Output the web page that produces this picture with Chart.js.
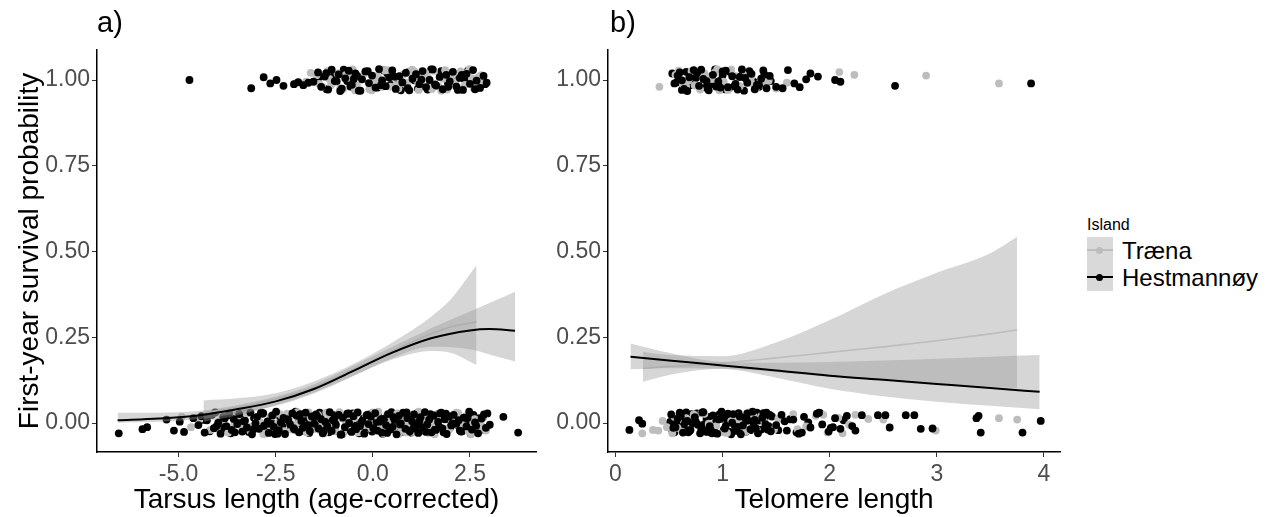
<!DOCTYPE html>
<html>
<head>
<meta charset="utf-8">
<script src="https://cdn.jsdelivr.net/npm/chart.js@4.4.1/dist/chart.umd.min.js"></script>
<style>
body { margin: 0; background: #fff; width: 1269px; height: 517px; position: relative; overflow: hidden; font-family: "Liberation Sans", Arial, sans-serif; }
canvas { position: absolute; top: 0; }
#chartA { left: 0; }
#chartB { left: 550px; }
.tag { position: absolute; top: 6px; font-size: 29px; line-height: 32px; color: #000; }
#legend { position: absolute; left: 1087px; top: 215px; color: #000; }
#legend .title { font-size: 16px; line-height: 20px; margin-bottom: 2px; }
#legend .row { display: flex; align-items: center; height: 27px; font-size: 24px; }
#legend .key { position: relative; width: 26px; height: 27px; background: #d9d9d9; margin-right: 9px; }
#legend .key i { position: absolute; display: block; }
#legend .key .ln { left: 0; right: 0; top: 12px; height: 2px; }
#legend .key .dot { left: 9px; top: 10px; width: 7px; height: 7px; border-radius: 50%; }
</style>
</head>
<body>
<canvas id="chartA" width="545" height="517"></canvas>
<canvas id="chartB" width="520" height="517"></canvas>
<div class="tag" style="left:97px">a)</div>
<div class="tag" style="left:610px">b)</div>
<div id="legend">
  <div class="title">Island</div>
  <div class="row"><span class="key"><i class="ln" style="background:#bdbdbd"></i><i class="dot" style="background:#bdbdbd"></i></span>Træna</div>
  <div class="row"><span class="key"><i class="ln" style="background:#000"></i><i class="dot" style="background:#000"></i></span>Hestmannøy</div>
</div>
<script>
// colours per island
const colTraena = '#bdbdbd';
const colHest = '#000000';
const ribbonFill = 'rgba(153,153,153,0.4)';

const yTicks = [0, 0.25, 0.5, 0.75, 1];

// ---- panel a: tarsus length ----
const aXTicks = [-5, -2.5, 0, 2.5];

// fitted curves (Hestmannøy)
const aHestCurveX = [-6.57, -5.5, -4.5, -3.5, -2.5, -1.5, -0.5, 0.5, 1.5, 2.5, 3.0, 3.66];
const aHestFit    = [0.008, 0.013, 0.022, 0.040, 0.063, 0.100, 0.152, 0.205, 0.247, 0.270, 0.274, 0.269];
const aHestUpper  = [0.030, 0.030, 0.035, 0.052, 0.077, 0.114, 0.167, 0.222, 0.276, 0.325, 0.350, 0.383];
const aHestLower  = [0.001, 0.004, 0.011, 0.028, 0.050, 0.087, 0.137, 0.189, 0.222, 0.215, 0.200, 0.179];
// fitted curves (Træna)
const aTraCurveX = [-4.36, -3.5, -2.5, -1.5, -0.5, 0.5, 1.5, 2.0, 2.67];
const aTraFit    = [0.030, 0.045, 0.070, 0.105, 0.156, 0.210, 0.260, 0.280, 0.295];
const aTraUpper  = [0.066, 0.072, 0.087, 0.122, 0.172, 0.235, 0.310, 0.360, 0.460];
const aTraLower  = [0.004, 0.022, 0.052, 0.090, 0.138, 0.185, 0.210, 0.205, 0.169];

// jittered observations, y offsets in thousandths
const aHestX0 = [-6.54,-5.93,-5.81,-5.31,-5.12,-4.97,-4.86,-4.62,-4.49,-4.41,
  -4.33,-4.27,-4.14,-4.09,-3.98,-3.92,-3.85,-3.77,-3.70,-3.63,
  -3.58,-3.49,-3.44,-3.36,-3.29,-3.24,-3.15,-3.11,-3.02,-2.98,
  -2.93,-2.84,-2.80,-2.71,-2.68,-2.59,-2.55,-2.49,-2.42,-2.37,
  -2.30,-2.26,-2.18,-2.13,-2.07,-2.01,-1.96,-1.90,-1.84,-1.80,
  -1.73,-1.69,-1.62,-1.57,-1.51,-1.46,-1.40,-1.33,-1.29,-1.22,
  -1.17,-1.11,-1.06,-0.99,-0.95,-0.88,-0.83,-0.77,-0.72,-0.66,
  -0.61,-0.55,-0.50,-0.43,-0.39,-0.33,-0.27,-0.22,-0.16,-0.11,
  -0.05,0.01,0.06,0.12,0.17,0.23,0.28,0.34,0.39,0.45,
  0.51,0.56,0.61,0.67,0.72,0.78,0.84,0.89,0.95,1.01,
  1.06,1.12,1.17,1.23,1.29,1.34,1.40,1.45,1.51,1.57,
  1.62,1.68,1.73,1.79,1.85,1.90,1.96,2.02,2.08,2.15,
  2.21,2.27,2.34,2.41,2.48,2.55,2.63,2.71,2.80,2.91,
  3.01,3.36,3.74,
  -4.25,-4.02,-3.81,-3.55,-3.33,-3.07,-2.88,-2.63,-2.45,-2.21,
  -2.04,-1.87,-1.66,-1.43,-1.26,-1.03,-0.81,-0.63,-0.46,-0.30,
  -0.13,0.04,0.20,0.37,0.53,0.70,0.87,1.04,1.20,1.37,
  1.54,1.71,1.88,2.05,2.24,2.44,2.66,2.86];
const aHestY0 = [-30,-18,-12,10,-22,4,-26,14,-6,20,
  -28,8,24,-15,1,-31,17,-9,29,-20,
  12,-3,26,-25,7,-13,31,-33,-1,18,
  -17,27,-8,5,-29,22,-11,33,-21,2,
  15,-32,9,-4,28,-19,21,-27,6,-14,
  30,-7,-24,19,-2,25,-16,11,-30,3,
  -10,32,-23,13,-5,24,-34,16,-12,27,
  0,-26,20,-18,31,-9,7,-31,23,-3,
  18,-15,29,-22,4,-28,12,-6,26,-19,
  -11,9,-33,21,-1,30,-17,14,-24,5,
  25,-8,-29,17,-13,32,-4,10,-27,22,
  -20,3,28,-16,11,-32,19,-7,24,-2,
  8,-25,16,-10,33,-19,2,-30,13,-14,
  -5,18,-28,
  22,-9,14,-27,5,-18,30,-2,-31,11,
  -15,26,-6,19,-23,8,-33,28,-12,1,
  24,-20,10,-29,17,-4,31,-16,6,-26,
  21,-11,27,-1,-22,15,-8,25];
// second layer of Hestmannøy points, drawn under Træna
const aHestX0b = [-4.36,-4.20,-4.06,-3.94,-3.88,-3.74,-3.66,-3.52,-3.40,-3.27,
  -3.19,-3.06,-2.95,-2.82,-2.74,-2.61,-2.52,-2.39,-2.33,-2.19,
  -2.10,-1.99,-1.93,-1.82,-1.76,-1.64,-1.55,-1.48,-1.37,-1.31,
  -1.19,-1.13,-1.01,-0.97,-0.85,-0.79,-0.69,-0.58,-0.52,-0.41,
  -0.35,-0.24,-0.19,-0.08,-0.02,0.09,0.14,0.25,0.31,0.42,
  0.48,0.58,0.64,0.75,0.81,0.92,0.98,1.09,1.14,1.26,
  1.31,1.43,1.48,1.60,1.65,1.76,1.82,1.93,1.99,2.11,
  2.18,2.30,2.38,2.45,2.52,2.59,2.68,2.75,2.84,2.95];
const aHestY0b = [9,-24,31,-3,-17,22,-30,6,27,-12,
  -26,15,-6,29,-20,1,-32,18,-9,25,
  -15,33,-1,-23,12,-29,20,-7,30,-18,
  4,-27,23,-11,16,-33,8,-21,28,-4,
  -30,13,-14,26,-25,2,19,-31,10,-8,
  32,-19,5,-26,22,-3,-28,15,29,-12,
  -22,7,26,-17,-2,30,-27,11,-13,21,
  -6,-24,17,3,-31,24,-10,14,-19,28];
const aTraX0 = [-4.92,-4.68,-4.45,-4.18,-3.95,-3.72,-3.50,-3.38,-3.21,-3.05,-2.91,-2.77,
  -2.64,-2.51,-2.39,-2.28,-2.15,-2.03,-1.94,-1.82,-1.71,-1.60,
  -1.52,-1.41,-1.31,-1.20,-1.10,-1.01,-0.92,-0.81,-0.71,-0.62,
  -0.53,-0.44,-0.35,-0.25,-0.18,-0.08,0.00,0.09,0.18,0.27,
  0.36,0.44,0.53,0.63,0.71,0.80,0.91,0.99,1.09,1.18,
  1.27,1.36,1.44,1.55,1.64,1.73,1.82,1.92,2.01,2.11,
  2.20,2.31,2.42,2.53,2.66,2.79,2.91,
  -3.62,-3.12,-2.70,-2.33,-1.99,-1.65,-1.36,-1.05,-0.76,-0.48,
  -0.21,0.05,0.32,0.58,0.85,1.13,1.40,1.68,1.97,2.25,2.58,
  -4.02,-3.85,-3.57,-3.30,-3.15,-2.98,-2.82,-2.58,-2.44,-2.21,
  -2.09,-1.88,-1.76,-1.57,-1.46,-1.25,-1.14,-0.96,-0.86,-0.66,
  -0.57,-0.39,-0.30,-0.12,-0.04,0.14,0.22,0.41,0.49,0.67,
  0.76,0.94,1.03,1.22,1.31,1.49,1.59,1.77,1.87,2.05,
  2.15,2.36,2.47,2.62,2.73,2.85];
const aTraY0 = [18,-12,12,-20,5,-28,22,-9,29,-16,3,-31,
  18,-6,26,-24,9,-13,32,-1,-27,15,
  -18,24,-10,30,-4,-22,13,-33,7,20,
  -14,27,-26,1,17,-8,31,-21,10,-30,
  23,-2,-17,28,-11,6,-25,19,-5,33,
  -19,11,-29,2,25,-12,16,-23,8,-3,
  29,-15,21,-32,4,-7,-22,
  26,-10,-24,18,-3,31,-20,9,-29,14,
  -6,22,-16,3,-27,12,-9,27,-18,5,-1,
  -16,24,-5,31,-23,10,-32,19,-1,27,
  -19,4,28,-13,22,-30,9,-24,32,-8,
  16,-27,1,25,-15,33,-6,-21,14,-31,
  20,-2,-26,29,-11,7,-33,23,-17,2,
  30,-9,-25,11,-20,17];
const aHestX1 = [-4.72,-3.13,-2.81,-2.64,-2.48,-2.30,-2.03,-1.92,-1.79,-1.66,-1.53,
  -1.41,-1.33,-1.24,-1.15,-1.06,-0.98,-0.88,-0.80,-0.71,-0.62,
  -0.54,-0.45,-0.36,-0.28,-0.19,-0.10,-0.02,0.07,0.16,0.24,
  0.33,0.42,0.50,0.59,0.68,0.76,0.85,0.94,1.02,1.11,
  1.20,1.28,1.37,1.46,1.54,1.63,1.72,1.80,1.89,1.98,
  2.06,2.15,2.24,2.32,2.41,2.50,2.58,2.67,2.76,2.85,2.93,
  -1.20,-0.84,-0.49,-0.13,0.21,0.55,0.90,1.25,1.60,1.94,2.29,2.63];
const aHestY1 = [0,-24,8,-10,0,-17,-12,-6,-15,-8,-5,
  22,-20,10,-28,30,-3,16,-25,5,27,
  -14,19,-31,2,25,-9,13,-22,32,-1,
  -18,7,28,-26,11,-7,21,-30,4,17,
  -12,26,-21,0,31,-16,9,-27,15,-4,
  24,-19,6,-29,18,-11,29,-2,-23,12,
  -8,20,-32,3,26,-15,10,-24,1,-13,-20,
  15,-27,29,-6,-19,23,-10,31,-25,8,-3,18];
const aHestX1b = [-1.38,-1.19,-1.02,-0.93,-0.75,-0.58,-0.40,-0.32,-0.15,0.03,
  0.12,0.28,0.46,0.63,0.72,0.89,1.07,1.16,1.33,1.50,
  1.58,1.76,1.93,2.02,2.19,2.36,2.45,2.62,2.80,2.89,
  -0.66,0.37,1.41,2.10];
const aHestY1b = [8,-27,17,-4,30,-19,12,-31,24,-9,
  -22,28,-14,5,-30,22,-1,-25,13,31,
  -17,26,-7,16,-29,3,27,-21,11,-12,
  -3,20,-28,6];
const aTraX1 = [-1.99,-1.72,-1.45,-1.30,-1.17,-1.02,-0.91,-0.77,-0.66,-0.52,
  -0.41,-0.27,-0.16,-0.03,0.10,0.19,0.31,0.45,0.54,0.66,
  0.79,0.88,1.01,1.13,1.22,1.35,1.47,1.57,1.69,1.81,
  1.91,2.03,2.13,2.26,2.37,2.49,2.60,2.72,2.84,
  -1.08,-0.58,-0.09,0.38,0.84,1.30,1.76,2.20,2.55,
  -1.60,-1.38,-1.12,-0.84,-0.70,-0.46,-0.21,0.02,0.24,0.50,
  0.71,0.95,1.18,1.41,1.63,1.86,2.08,2.31,2.44,2.67,
  0.14,0.60,1.07,1.52,1.97,2.79];
const aTraY1 = [-10,-5,14,-20,26,-8,19,-27,6,31,
  -16,2,24,-30,12,-4,28,-19,9,-25,
  17,-12,30,-1,-22,21,-9,27,-18,4,
  -28,13,-6,25,-14,32,-24,8,-2,
  -15,11,-27,29,-7,20,-31,16,5,
  21,-11,3,-24,14,-30,20,-6,-20,27,
  -2,18,-29,9,-17,29,-10,-23,22,-4,
  7,-15,25,-26,1,14];

// ---- panel b: telomere length ----
const bXTicks = [0, 1, 2, 3, 4];

const bHestCurveX = [0.14, 0.5, 1.0, 1.5, 2.0, 2.5, 3.0, 3.5, 3.96];
const bHestFit    = [0.193, 0.182, 0.168, 0.153, 0.138, 0.126, 0.114, 0.102, 0.091];
const bHestUpper  = [0.232, 0.205, 0.178, 0.176, 0.178, 0.182, 0.187, 0.193, 0.198];
const bHestLower  = [0.157, 0.160, 0.158, 0.132, 0.100, 0.078, 0.062, 0.050, 0.040];
const bTraCurveX = [0.255, 0.5, 1.0, 1.5, 2.0, 2.5, 3.0, 3.5, 3.75];
const bTraFit    = [0.159, 0.165, 0.175, 0.190, 0.206, 0.222, 0.240, 0.260, 0.271];
const bTraUpper  = [0.208, 0.198, 0.195, 0.235, 0.300, 0.375, 0.438, 0.495, 0.543];
const bTraLower  = [0.120, 0.140, 0.158, 0.148, 0.135, 0.125, 0.115, 0.106, 0.101];

const bHestX0 = [0.13,0.22,0.25,
  0.52,0.56,0.60,0.63,0.67,0.70,0.74,0.77,0.81,0.84,
  0.88,0.91,0.95,0.98,1.02,1.05,1.09,1.12,1.16,1.19,
  1.23,1.26,1.30,1.33,1.37,1.40,1.44,
  0.54,0.61,0.68,0.75,0.82,0.89,0.96,1.03,1.10,1.17,
  1.24,1.31,1.38,1.45,
  0.58,0.72,0.86,1.00,1.14,1.28,1.42,0.65,0.93,1.21,
  1.50,1.55,1.60,1.66,1.71,1.76,1.82,1.88,1.93,1.99,2.05,2.10,2.16,2.21,
  1.58,1.74,1.90,2.03,
  2.30,2.45,2.52,2.56,2.71,2.79,2.85,2.96,3.37,3.39,3.41,3.80,3.97];
const bHestY0 = [-20,8,-2,
  25,-12,30,-28,6,-20,17,-5,31,-25,
  -9,22,-31,12,-16,27,1,-23,19,-7,
  28,-18,9,-30,15,-3,24,
  -14,20,-27,4,32,-21,11,-8,26,-33,
  7,-15,29,-24,
  13,-1,-26,21,-11,33,-19,2,-29,16,
  -6,24,-22,10,-31,18,-13,27,-4,-25,14,-17,21,-9,
  5,-28,30,-12,
  23,23,23,-13,23,23,-17,-16,14,21,-28,-28,6];
const bHestX0b = [0.51,0.55,0.59,0.62,0.66,0.69,0.73,0.76,0.80,0.83,
  0.87,0.90,0.94,0.97,1.01,1.04,1.08,1.11,1.15,1.18,
  1.22,1.25,1.29,1.32,1.36,1.39,1.43,1.46,
  0.53,0.64,0.71,0.79,0.92,0.99,1.07,1.14,1.26,1.34,1.41,
  0.57,0.85,1.13,1.20,
  1.52,1.63,1.69,1.80,1.91,2.01,2.13,2.24];
const bHestY0b = [3,-27,20,-11,31,-23,9,28,-16,-3,
  18,-30,6,25,-20,12,-33,-6,29,-14,
  -25,16,-1,30,-19,10,-9,19,
  -22,-8,26,-30,-18,33,-26,24,-21,7,30,
  0,13,-12,2,
  -21,11,-27,2,29,-14,8,-22];
const bTraX0 = [0.25,0.35,0.40,0.44,0.48,
  0.55,0.62,0.69,0.76,0.83,0.90,0.97,1.04,1.11,1.18,1.25,1.32,1.39,
  0.58,0.73,0.87,1.01,1.15,1.29,
  1.48,1.57,1.66,1.78,1.87,1.98,2.08,2.18,
  2.36,2.50,2.99,3.58,3.75,
  0.53,0.66,0.80,0.94,1.08,1.22,1.36,1.52,1.70,1.94,2.12,2.24,0.71,1.15];
const bTraY0 = [-30,-20,-22,6,-12,
  18,-25,9,-4,27,-17,13,-29,22,-8,31,-20,3,
  -14,25,-2,-27,11,19,
  -19,8,26,-10,21,-28,15,-5,
  12,10,-22,14,10,
  -30,14,28,-9,6,-24,20,12,-18,24,-30,24,-6,-2];
const bHestX1 = [0.55,0.60,0.64,0.69,0.73,0.78,0.82,0.87,0.91,0.96,
  1.00,1.05,1.09,1.14,1.18,1.23,1.27,1.32,1.36,1.41,
  0.58,0.67,0.76,0.85,0.94,1.03,1.12,1.21,1.30,1.39,
  0.62,0.80,0.98,1.16,1.34,
  1.44,1.50,1.56,1.61,1.67,1.72,1.78,1.82,1.89,2.05,2.10,2.61,3.88];
const bHestY1 = [-10,22,-26,8,29,-17,3,-30,15,-5,
  25,-21,11,-28,31,-8,18,-14,4,-24,
  13,-32,20,-3,-19,27,-11,6,-27,16,
  -1,30,-22,9,-15,
  12,-20,-24,29,-10,-21,2,19,10,0,-5,-17,-10];
const bHestX1b = [0.53,0.57,0.62,0.66,0.71,0.75,0.80,0.84,0.89,0.93,
  0.98,1.02,1.07,1.11,1.16,1.20,1.25,1.29,1.34,1.38,
  0.69,0.90,1.06,1.24,1.45,0.60,1.00,1.19];
const bHestY1b = [19,-7,-29,24,-15,6,27,-22,-12,31,
  -1,-27,23,-18,10,-31,26,-5,-20,28,
  -9,12,-24,7,-3,0,14,20];
const bTraX1 = [0.41,0.56,0.63,0.71,0.79,0.86,0.93,1.01,1.08,1.16,1.23,1.31,
  0.68,0.83,0.97,1.12,1.27,1.38,1.60,2.09,2.23,2.90,3.58,
  0.59,0.74,0.90,1.05,1.19,1.35,0.66,0.95,1.27,1.43,1.50];
const bTraY1 = [-20,15,-12,26,-28,8,22,-5,30,-18,3,-25,
  -2,19,-30,11,-9,-14,-8,23,15,13,-10,
  27,-16,3,-29,17,-8,-20,31,10,-2,-25];

function pts(xs, ys, base) {
  return xs.map((x, i) => ({ x: x, y: base + (ys[i] || 0) / 1000 }));
}
function curve(xs, ys) {
  return xs.map((x, i) => ({ x: x, y: ys[i] }));
}

function lineSet(data, color, width) {
  return { data: data, borderColor: color, borderWidth: width, pointRadius: 0, fill: false, cubicInterpolationMode: 'monotone' };
}
function bandEdge(data, fill) {
  return { data: data, borderWidth: 0, borderColor: 'rgba(0,0,0,0)', pointRadius: 0, backgroundColor: ribbonFill,
           fill: fill, cubicInterpolationMode: 'monotone' };
}
function pointSet(data, color) {
  return { data: data, showLine: false, pointRadius: 3.9, pointHoverRadius: 3.9, pointBorderWidth: 0,
           pointBackgroundColor: color, borderColor: color, backgroundColor: color };
}

function drawPanel(id, xMin, xMax, xTicks, decimals, xTitle, yTitle, yWidth, padRight, sets) {
  const axisFont = { family: '"Liberation Sans", Arial, sans-serif', size: 23 };
  const titleFont = { family: '"Liberation Sans", Arial, sans-serif', size: 28 };
  return new Chart(document.getElementById(id), {
    type: 'line',
    data: { datasets: sets },
    options: {
      responsive: false,
      animation: false,
      events: [],
      layout: { padding: { top: 50, right: padRight, left: 0, bottom: 0 } },
      plugins: { legend: { display: false }, tooltip: { enabled: false } },
      scales: {
        x: {
          type: 'linear', min: xMin, max: xMax,
          afterBuildTicks: s => { s.ticks = xTicks.map(v => ({ value: v })); },
          afterFit: s => { s.height = 65; },
          ticks: { font: axisFont, color: '#4d4d4d', padding: 4, maxRotation: 0, callback: v => v.toFixed(decimals) },
          grid: { drawOnChartArea: false, drawTicks: true, tickLength: 5, tickColor: '#333333', tickWidth: 1 },
          border: { display: true, color: '#000', width: 1.5 },
          title: { display: true, text: xTitle, font: titleFont, color: '#000', padding: { top: 0, bottom: 0 } }
        },
        y: {
          min: -0.0845, max: 1.0875,
          afterBuildTicks: s => { s.ticks = yTicks.map(v => ({ value: v })); },
          afterFit: s => { s.width = yWidth; },
          ticks: { font: axisFont, color: '#4d4d4d', padding: 2, callback: v => v.toFixed(2) },
          grid: { drawOnChartArea: false, drawTicks: true, tickLength: 5, tickColor: '#333333', tickWidth: 1 },
          border: { display: true, color: '#000', width: 1.5 },
          title: { display: !!yTitle, text: yTitle, font: titleFont, color: '#000', padding: { top: 13, bottom: 0 } }
        }
      }
    }
  });
}

drawPanel('chartA', -7.1, 4.2, aXTicks, 1, 'Tarsus length (age-corrected)', 'First-year survival probability', 97, 9, [
  lineSet(curve(aHestCurveX, aHestFit), colHest, 2),
  bandEdge(curve(aHestCurveX, aHestLower), false),
  bandEdge(curve(aHestCurveX, aHestUpper), '-1'),
  lineSet(curve(aTraCurveX, aTraFit), colTraena, 1.6),
  bandEdge(curve(aTraCurveX, aTraLower), false),
  bandEdge(curve(aTraCurveX, aTraUpper), '-1'),
  pointSet(pts(aHestX0, aHestY0, 0), colHest),
  pointSet(pts(aTraX0, aTraY0, 0), colTraena),
  pointSet(pts(aHestX0b, aHestY0b, 0), colHest),
  pointSet(pts(aHestX1, aHestY1, 1), colHest),
  pointSet(pts(aTraX1, aTraY1, 1), colTraena),
  pointSet(pts(aHestX1b, aHestY1b, 1), colHest)
]);

drawPanel('chartB', -0.07, 4.15, bXTicks, 0, 'Telomere length', '', 58, 10, [
  lineSet(curve(bHestCurveX, bHestFit), colHest, 2),
  bandEdge(curve(bHestCurveX, bHestLower), false),
  bandEdge(curve(bHestCurveX, bHestUpper), '-1'),
  lineSet(curve(bTraCurveX, bTraFit), colTraena, 1.6),
  bandEdge(curve(bTraCurveX, bTraLower), false),
  bandEdge(curve(bTraCurveX, bTraUpper), '-1'),
  pointSet(pts(bHestX0, bHestY0, 0), colHest),
  pointSet(pts(bTraX0, bTraY0, 0), colTraena),
  pointSet(pts(bHestX0b, bHestY0b, 0), colHest),
  pointSet(pts(bHestX1, bHestY1, 1), colHest),
  pointSet(pts(bTraX1, bTraY1, 1), colTraena),
  pointSet(pts(bHestX1b, bHestY1b, 1), colHest)
]);
</script>
</body>
</html>
